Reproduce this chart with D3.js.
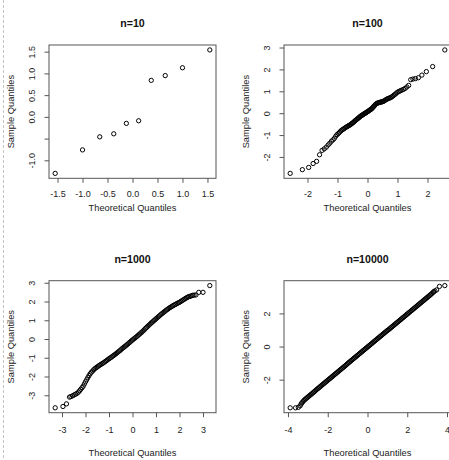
<!DOCTYPE html>
<html>
<head>
<meta charset="utf-8">
<script src="https://cdn.jsdelivr.net/npm/d3@7"></script>
<style>
  body { margin: 0; background: #fff; }
  svg { display: block; }
</style>
</head>
<body>
<div id="chart"></div>
<script>
// Normal Q-Q plots for four sample sizes

// n = 10
const theo10 = [-1.547, -1.000, -0.655, -0.375, -0.123, 0.123, 0.375, 0.655, 1.000, 1.547];
const samp10 = [-1.30, -0.76, -0.46, -0.39, -0.15, -0.09, 0.84, 0.95, 1.13, 1.54];

// n = 100
const theo100 = [-2.576, -2.170, -1.960, -1.812, -1.695, -1.598, -1.514, -1.440, -1.372, -1.311,
  -1.254, -1.200, -1.150, -1.103, -1.058, -1.015, -0.974, -0.935, -0.896, -0.860,
  -0.824, -0.789, -0.755, -0.722, -0.690, -0.659, -0.628, -0.598, -0.568, -0.539,
  -0.510, -0.482, -0.454, -0.426, -0.399, -0.372, -0.345, -0.319, -0.292, -0.266,
  -0.240, -0.215, -0.189, -0.164, -0.138, -0.113, -0.088, -0.063, -0.038, -0.013,
  0.013, 0.038, 0.063, 0.088, 0.113, 0.138, 0.164, 0.189, 0.215, 0.240,
  0.266, 0.292, 0.319, 0.345, 0.372, 0.399, 0.426, 0.454, 0.482, 0.510,
  0.539, 0.568, 0.598, 0.628, 0.659, 0.690, 0.722, 0.755, 0.789, 0.824,
  0.860, 0.896, 0.935, 0.974, 1.015, 1.058, 1.103, 1.150, 1.200, 1.254,
  1.311, 1.372, 1.440, 1.514, 1.598, 1.695, 1.812, 1.960, 2.170, 2.576];
const samp100 = [-2.75, -2.58, -2.48, -2.30, -2.20, -1.90, -1.70, -1.63, -1.55, -1.45,
  -1.37, -1.28, -1.22, -1.15, -1.05, -0.98, -0.93, -0.88, -0.82, -0.78,
  -0.74, -0.72, -0.68, -0.65, -0.62, -0.60, -0.57, -0.55, -0.52, -0.49,
  -0.46, -0.43, -0.40, -0.36, -0.33, -0.30, -0.27, -0.24, -0.21, -0.18,
  -0.15, -0.12, -0.10, -0.08, -0.05, -0.03, -0.01, 0.01, 0.03, 0.06,
  0.08, 0.10, 0.13, 0.15, 0.18, 0.20, 0.24, 0.28, 0.32, 0.36,
  0.40, 0.43, 0.45, 0.47, 0.48, 0.49, 0.50, 0.51, 0.52, 0.53,
  0.55, 0.57, 0.60, 0.63, 0.65, 0.67, 0.69, 0.70, 0.73, 0.76,
  0.80, 0.84, 0.88, 0.93, 0.97, 1.00, 1.03, 1.06, 1.09, 1.13,
  1.20, 1.27, 1.53, 1.56, 1.58, 1.62, 1.74, 1.90, 2.13, 2.89];

// n = 1000 : [theoretical, sample] read along the plotted chain
const qq1000 = [
  [-3.29, -3.67], [-2.96, -3.60], [-2.81, -3.46], [-2.68, -3.10], [-2.62, -3.07], [-2.55, -3.03],
  [-2.48, -2.98], [-2.42, -2.94], [-2.36, -2.90], [-2.30, -2.83], [-2.25, -2.76], [-2.20, -2.68],
  [-2.15, -2.60], [-2.10, -2.52], [-2.05, -2.40],
  [-2.00, -2.28], [-1.95, -2.17], [-1.90, -2.06], [-1.85, -1.95], [-1.80, -1.85], [-1.75, -1.77],
  [-1.70, -1.71], [-1.65, -1.64], [-1.60, -1.58], [-1.55, -1.53], [-1.50, -1.49], [-1.45, -1.44],
  [-1.40, -1.40], [-1.35, -1.36], [-1.30, -1.32], [-1.25, -1.28], [-1.20, -1.24], [-1.15, -1.19],
  [-1.10, -1.15], [-1.05, -1.10], [-1.00, -1.05], [-0.95, -1.01], [-0.90, -0.97], [-0.85, -0.92],
  [-0.80, -0.88], [-0.75, -0.83], [-0.70, -0.78], [-0.65, -0.73], [-0.60, -0.68], [-0.55, -0.63],
  [-0.50, -0.58], [-0.45, -0.52], [-0.40, -0.47], [-0.35, -0.42], [-0.30, -0.37], [-0.25, -0.32],
  [-0.20, -0.27], [-0.15, -0.21], [-0.10, -0.16], [-0.05, -0.10], [0.00, -0.05], [0.05, 0.00],
  [0.10, 0.05], [0.15, 0.10], [0.20, 0.15], [0.25, 0.21], [0.30, 0.26], [0.35, 0.32],
  [0.40, 0.37], [0.45, 0.43], [0.50, 0.49], [0.55, 0.56], [0.60, 0.62], [0.65, 0.68],
  [0.70, 0.74], [0.75, 0.80], [0.80, 0.86], [0.85, 0.91], [0.90, 0.97], [0.95, 1.02],
  [1.00, 1.08], [1.05, 1.13], [1.10, 1.19], [1.15, 1.24], [1.20, 1.30], [1.25, 1.35],
  [1.30, 1.40], [1.35, 1.45], [1.40, 1.50], [1.45, 1.55], [1.50, 1.59], [1.55, 1.64],
  [1.60, 1.68], [1.65, 1.72], [1.70, 1.76], [1.75, 1.80], [1.80, 1.83], [1.85, 1.86],
  [1.90, 1.90], [1.95, 1.93], [2.00, 1.96], [2.05, 2.00], [2.10, 2.04], [2.15, 2.08],
  [2.20, 2.12], [2.25, 2.16], [2.30, 2.20],
  [2.35, 2.23], [2.39, 2.26], [2.45, 2.28], [2.50, 2.30], [2.56, 2.33], [2.62, 2.34],
  [2.70, 2.35], [2.82, 2.49], [3.00, 2.49], [3.29, 2.85]
];

// n = 10000 : [theoretical, sample] read along the plotted chain
const qq10000 = [
  [-3.89, -3.70], [-3.62, -3.70], [-3.48, -3.67], [-3.39, -3.58], [-3.34, -3.47],
  [-3.30, -3.40], [-3.25, -3.33], [-3.20, -3.26], [-3.15, -3.20], [-3.10, -3.15], [-3.05, -3.10],
  [-3.00, -3.05], [-2.95, -3.00], [-2.90, -2.95], [-2.85, -2.90], [-2.80, -2.85], [-2.75, -2.80],
  [-2.70, -2.75], [-2.65, -2.70], [-2.60, -2.64], [-2.55, -2.59], [-2.50, -2.54], [-2.45, -2.49],
  [-2.40, -2.44], [-2.35, -2.39], [-2.30, -2.34], [-2.25, -2.29], [-2.20, -2.24], [-2.15, -2.19],
  [-2.10, -2.14], [-2.05, -2.09], [-2.00, -2.04], [-1.95, -1.99], [-1.90, -1.94], [-1.85, -1.89],
  [-1.80, -1.84], [-1.75, -1.79], [-1.70, -1.74], [-1.65, -1.69], [-1.60, -1.64], [-1.55, -1.59],
  [-1.50, -1.54], [-1.45, -1.49], [-1.40, -1.44], [-1.35, -1.39], [-1.30, -1.34], [-1.25, -1.29],
  [-1.20, -1.24], [-1.15, -1.19], [-1.10, -1.14], [-1.05, -1.09], [-1.00, -1.03], [-0.95, -0.98],
  [-0.90, -0.93], [-0.85, -0.88], [-0.80, -0.83], [-0.75, -0.78], [-0.70, -0.73], [-0.65, -0.68],
  [-0.60, -0.63], [-0.55, -0.58], [-0.50, -0.53], [-0.45, -0.48], [-0.40, -0.43], [-0.35, -0.38],
  [-0.30, -0.33], [-0.25, -0.28], [-0.20, -0.23], [-0.15, -0.18], [-0.10, -0.13], [-0.05, -0.08],
  [0.00, -0.03], [0.05, 0.02], [0.10, 0.07], [0.15, 0.12], [0.20, 0.17], [0.25, 0.22],
  [0.30, 0.27], [0.35, 0.32], [0.40, 0.37], [0.45, 0.42], [0.50, 0.47], [0.55, 0.52],
  [0.60, 0.57], [0.65, 0.62], [0.70, 0.67], [0.75, 0.72], [0.80, 0.77], [0.85, 0.82],
  [0.90, 0.87], [0.95, 0.92], [1.00, 0.97], [1.05, 1.01], [1.10, 1.06], [1.15, 1.11],
  [1.20, 1.16], [1.25, 1.21], [1.30, 1.26], [1.35, 1.31], [1.40, 1.36], [1.45, 1.41],
  [1.50, 1.46], [1.55, 1.51], [1.60, 1.56], [1.65, 1.61], [1.70, 1.66], [1.75, 1.71],
  [1.80, 1.76], [1.85, 1.81], [1.90, 1.86], [1.95, 1.91], [2.00, 1.96], [2.05, 2.01],
  [2.10, 2.06], [2.15, 2.11], [2.20, 2.16], [2.25, 2.21], [2.30, 2.26], [2.35, 2.31],
  [2.40, 2.36], [2.45, 2.41], [2.50, 2.46], [2.55, 2.51], [2.60, 2.56], [2.65, 2.61],
  [2.70, 2.66], [2.75, 2.71], [2.80, 2.76], [2.85, 2.81], [2.90, 2.86], [2.95, 2.91],
  [3.00, 2.96], [3.05, 3.01], [3.10, 3.06], [3.15, 3.11], [3.20, 3.16], [3.25, 3.21],
  [3.30, 3.27], [3.33, 3.31], [3.39, 3.36], [3.48, 3.42], [3.62, 3.63], [3.89, 3.68]
];

// tick positions and labels (an empty label is a tick R left unlabelled)
const xTicks10 = [-1.5, -1.0, -0.5, 0.0, 0.5, 1.0, 1.5];
const xLabels10 = ["-1.5", "-1.0", "-0.5", "0.0", "0.5", "1.0", "1.5"];
const yTicks10 = [-1.0, -0.5, 0.0, 0.5, 1.0, 1.5];
const yLabels10 = ["-1.0", "", "0.0", "0.5", "1.0", "1.5"];
const xTicks100 = [-2, -1, 0, 1, 2];
const yTicks100 = [-2, -1, 0, 1, 2, 3];
const xTicks1000 = [-3, -2, -1, 0, 1, 2, 3];
const yTicks1000 = [-3, -2, -1, 0, 1, 2, 3];
const xTicks10000 = [-4, -2, 0, 2, 4];
const yTicks10000 = [-2, 0, 2];

const titles = ["n=10", "n=100", "n=1000", "n=10000"];
const xTitle = "Theoretical Quantiles";
const yTitle = "Sample Quantiles";

const width = 449, height = 460;
const font = "'Liberation Sans', Arial, Helvetica, sans-serif";

const svg = d3.select("#chart")
  .append("svg")
  .attr("width", width)
  .attr("height", height);

// faint dashed edge on the left of the original screenshot
svg.append("line")
  .attr("x1", 3.5).attr("x2", 3.5)
  .attr("y1", 0).attr("y2", height)
  .attr("stroke", "#c4c4c4")
  .attr("stroke-dasharray", "3,2");

const panels = [
  { title: titles[0], pts: d3.zip(theo10, samp10), xt: xTicks10, xl: xLabels10, yt: yTicks10, yl: yLabels10, col: 0, row: 0 },
  { title: titles[1], pts: d3.zip(theo100, samp100), xt: xTicks100, xl: xTicks100.map(String), yt: yTicks100, yl: yTicks100.map(String), col: 1, row: 0 },
  { title: titles[2], pts: qq1000, xt: xTicks1000, xl: xTicks1000.map(String), yt: yTicks1000, yl: yTicks1000.map(String), col: 0, row: 1 },
  { title: titles[3], pts: qq10000, xt: xTicks10000, xl: xTicks10000.map(String), yt: yTicks10000, yl: yTicks10000.map(String), col: 1, row: 1 }
];

// row geometry (the lower row sits a little lower under its box)
const rows = [
  { top: 45, h: 133.3, tickPad: 8.1, labGap: 33 },
  { top: 280.7, h: 132, tickPad: 9.6, labGap: 43 }
];

// R pads the data range by 4% on each side
function pad(ext) {
  const d = (ext[1] - ext[0]) * 0.04;
  return [ext[0] - d, ext[1] + d];
}

panels.forEach(p => {
  const left = 49 + 235 * p.col, w = 167;
  const r = rows[p.row];
  const top = r.top, bottom = r.top + r.h;

  const x = d3.scaleLinear()
    .domain(pad(d3.extent(p.pts, d => d[0])))
    .range([left, left + w]);
  const y = d3.scaleLinear()
    .domain(pad(d3.extent(p.pts, d => d[1])))
    .range([bottom, top]);

  const g = svg.append("g");

  // points (open circles, pch = 1)
  g.append("g")
    .selectAll("circle")
    .data(p.pts)
    .join("circle")
    .attr("cx", d => x(d[0]))
    .attr("cy", d => y(d[1]))
    .attr("r", 2.15)
    .attr("fill", "none")
    .attr("stroke", "#000")
    .attr("stroke-width", 1);

  // box
  g.append("rect")
    .attr("x", left).attr("y", top)
    .attr("width", w).attr("height", r.h)
    .attr("fill", "none")
    .attr("stroke", "#555")
    .attr("stroke-width", 1);

  // x axis
  const xa = g.append("g")
    .attr("transform", `translate(0,${bottom})`)
    .attr("color", "#555")
    .call(d3.axisBottom(x)
      .tickValues(p.xt)
      .tickFormat((d, i) => p.xl[i])
      .tickSize(4.5)
      .tickPadding(r.tickPad));
  xa.select(".domain").remove();
  xa.attr("font-family", font).attr("font-size", 9);
  xa.selectAll("text").attr("fill", "#222");

  // y axis, labels parallel to the axis
  const ya = g.append("g")
    .attr("transform", `translate(${left},0)`)
    .attr("color", "#555")
    .call(d3.axisLeft(y)
      .tickValues(p.yt)
      .tickFormat((d, i) => p.yl[i])
      .tickSize(4.5));
  ya.select(".domain").remove();
  ya.attr("font-family", font).attr("font-size", 9);
  ya.selectAll("text")
    .attr("fill", "#222")
    .attr("x", null)
    .attr("dy", null)
    .attr("text-anchor", "middle")
    .attr("transform", "translate(-14,0) rotate(-90)");

  // title
  g.append("text")
    .attr("x", left + w / 2)
    .attr("y", top - 18)
    .attr("text-anchor", "middle")
    .attr("font-family", font)
    .attr("font-size", 10.6)
    .attr("font-weight", "bold")
    .attr("fill", "#111")
    .text(p.title);

  // axis titles
  g.append("text")
    .attr("x", left + w / 2)
    .attr("y", bottom + r.labGap)
    .attr("text-anchor", "middle")
    .attr("font-family", font)
    .attr("font-size", 9.3)
    .attr("fill", "#222")
    .text(xTitle);

  g.append("text")
    .attr("transform", `translate(${left - 35.5},${top + r.h / 2}) rotate(-90)`)
    .attr("text-anchor", "middle")
    .attr("font-family", font)
    .attr("font-size", 9.3)
    .attr("fill", "#222")
    .text(yTitle);
});
</script>
</body>
</html>
